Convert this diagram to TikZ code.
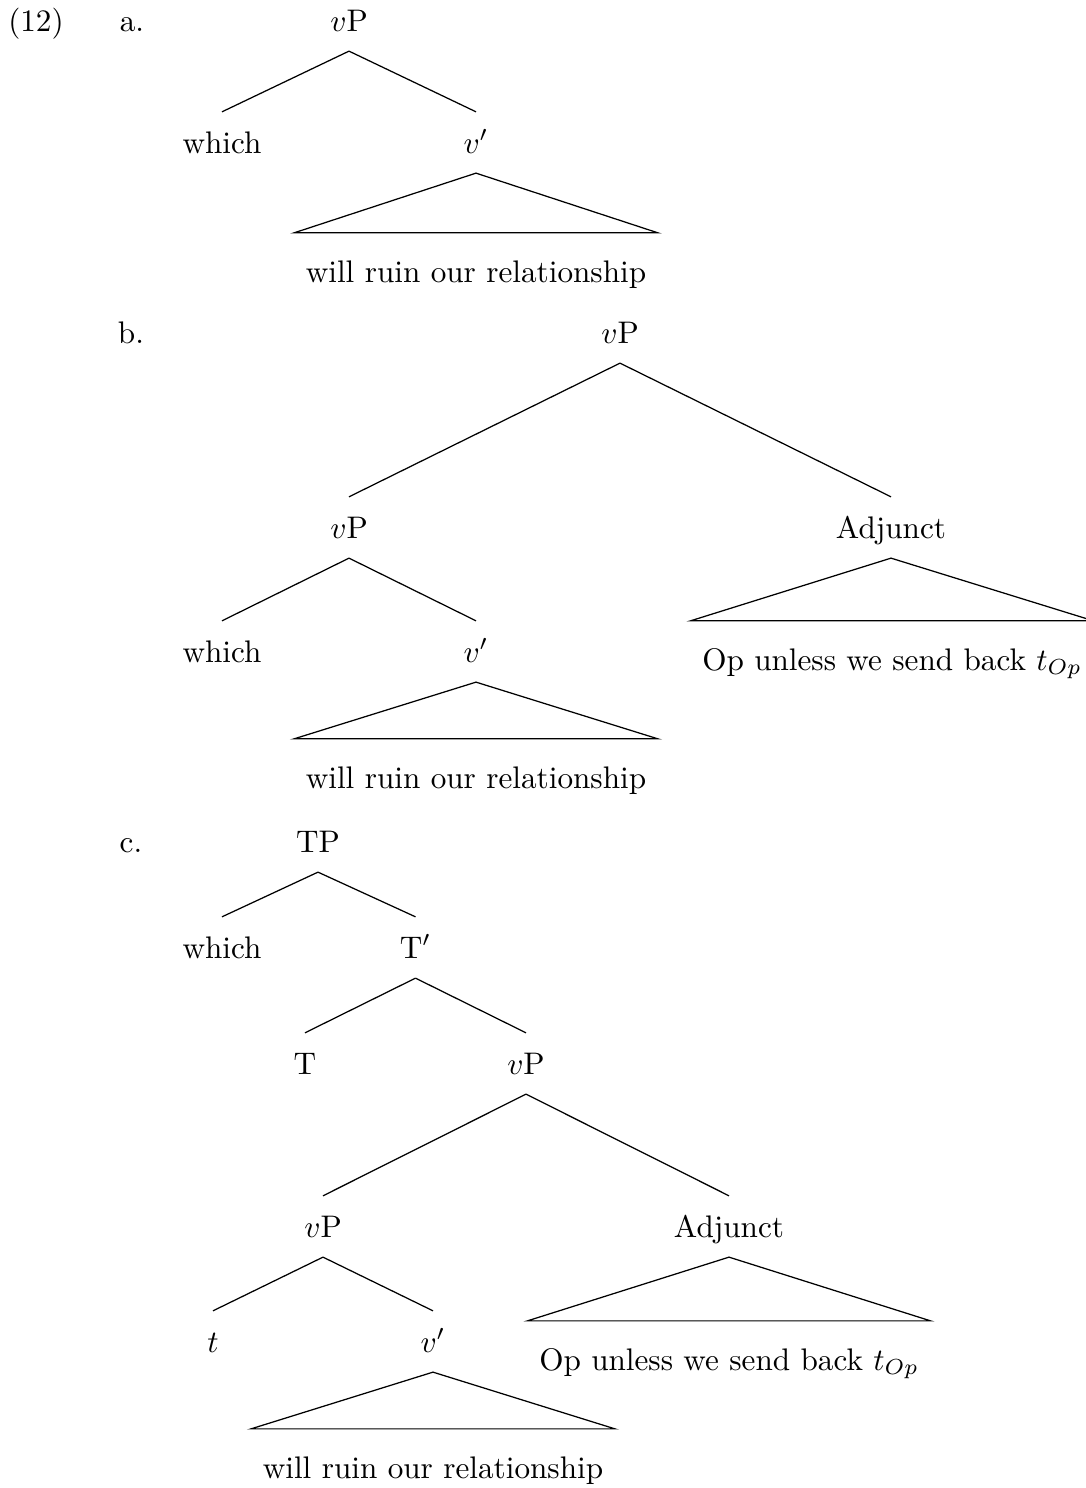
\documentclass[tikz,border=0pt]{standalone}
\begin{document}
\begin{tikzpicture}[x=0.3205pt,y=-0.3205pt,
  cat/.style={anchor=base,inner xsep=0pt,inner ysep=0pt,text height=13.0pt,text depth=6.25pt},
  leaf/.style={anchor=base,inner xsep=3.6pt,inner ysep=0pt,text height=15.55pt,text depth=2pt},
  lbl/.style={anchor=base,inner sep=0pt},
  edge/.style={line width=0.4pt}]
\useasboundingbox (0,0) rectangle (1086,1488);
% labels
\node[lbl] (ex) at (36,31) {(12)};
\node[lbl] (la) at (132,31) {a.};
\node[lbl] (lb) at (131,343) {b.};
\node[lbl] (lc) at (131,852) {c.};
% tree a
\node[cat] (a0) at (349,31) {$v$P};
\node[cat] (a1) at (222,153) {which};
\node[cat] (a2) at (476,153) {$v'$};
\node[leaf] (a3) at (476,282) {will ruin our relationship};
\draw[edge] (a0.south) -- (a1.north);
\draw[edge] (a0.south) -- (a2.north);
\draw[edge] (a2.south) -- (a3.north west) -- (a3.north east) -- cycle;
% tree b
\node[cat] (b0) at (620,343) {$v$P};
\node[cat] (b1) at (349,538) {$v$P};
\node[cat] (b2) at (891,538) {Adjunct};
\node[cat] (b3) at (222,662) {which};
\node[cat] (b4) at (476,662) {$v'$};
\node[leaf] (b5) at (476,788) {will ruin our relationship};
\node[leaf] (b6) at (892,670) {Op unless we send back $t_{Op}$};
\draw[edge] (b0.south) -- (b1.north);
\draw[edge] (b0.south) -- (b2.north);
\draw[edge] (b1.south) -- (b3.north);
\draw[edge] (b1.south) -- (b4.north);
\draw[edge] (b4.south) -- (b5.north west) -- (b5.north east) -- cycle;
\draw[edge] (b2.south) -- (b6.north west) -- (b6.north east) -- cycle;
% tree c
\node[cat] (c0) at (318,852) {TP};
\node[cat] (c1) at (222,958) {which};
\node[cat] (c2) at (415.5,958) {T$'$};
\node[cat] (c3) at (305,1074) {T};
\node[cat] (c4) at (526,1074) {$v$P};
\node[cat] (c5) at (323,1237) {$v$P};
\node[cat] (c6) at (729,1237) {Adjunct};
\node[cat] (c7) at (213,1352) {$t$};
\node[cat] (c8) at (433,1352) {$v'$};
\node[leaf] (c9) at (433,1478) {will ruin our relationship};
\node[leaf] (c10) at (729,1370) {Op unless we send back $t_{Op}$};
\draw[edge] (c0.south) -- (c1.north);
\draw[edge] (c0.south) -- (c2.north);
\draw[edge] (c2.south) -- (c3.north);
\draw[edge] (c2.south) -- (c4.north);
\draw[edge] (c4.south) -- (c5.north);
\draw[edge] (c4.south) -- (c6.north);
\draw[edge] (c5.south) -- (c7.north);
\draw[edge] (c5.south) -- (c8.north);
\draw[edge] (c8.south) -- (c9.north west) -- (c9.north east) -- cycle;
\draw[edge] (c6.south) -- (c10.north west) -- (c10.north east) -- cycle;
\end{tikzpicture}
\end{document}
